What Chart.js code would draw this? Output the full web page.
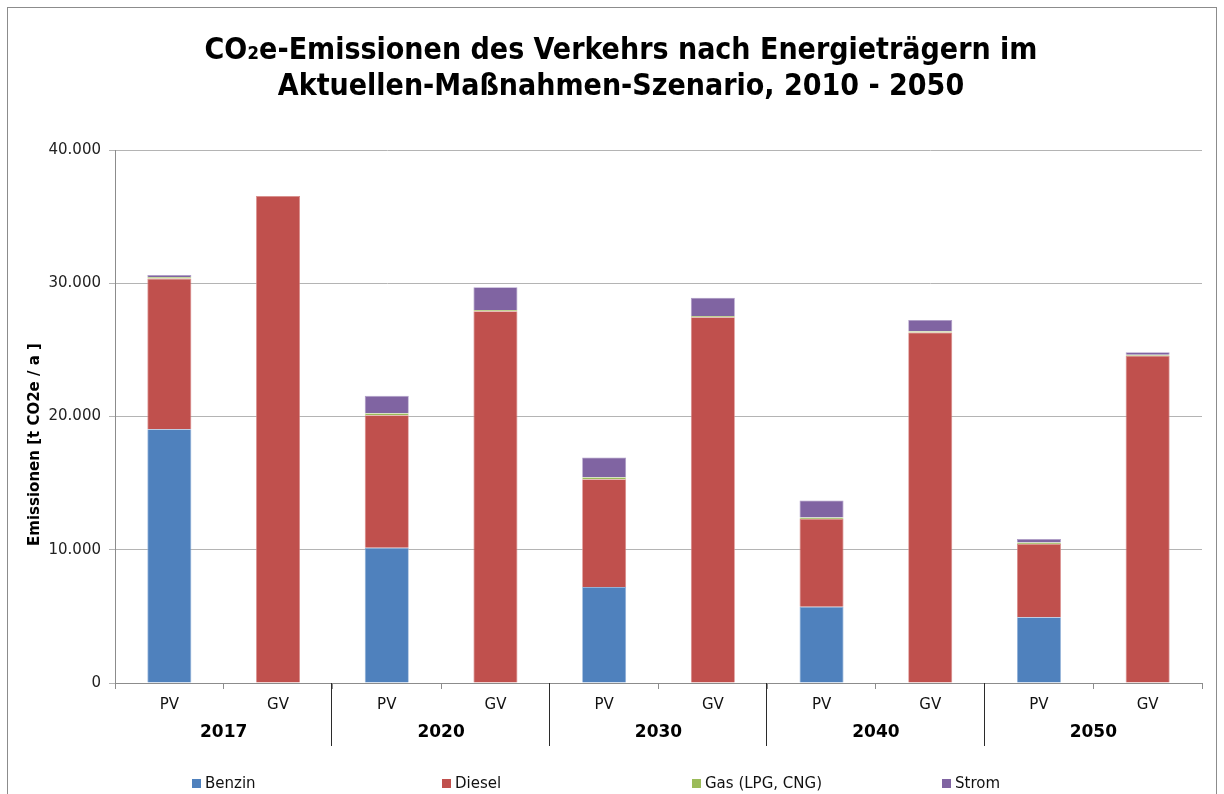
<!DOCTYPE html>
<html lang="de">
<head>
<meta charset="utf-8">
<title>CO₂e-Emissionen des Verkehrs nach Energieträgern</title>
<script src="https://cdn.jsdelivr.net/npm/chart.js@4.4.1/dist/chart.umd.min.js"></script>
<style>
  html, body { margin: 0; padding: 0; background: #fff; overflow: hidden; }
  #wrap { position: relative; width: 1224px; height: 794px; }
  #frame { position: absolute; left: 7px; top: 7px; width: 1210px; height: 820px; border: 1px solid #8c8c8c; box-sizing: border-box; pointer-events: none; }
  canvas { position: absolute; left: 0; top: 0; }
</style>
</head>
<body>
<div id="wrap">
  <canvas id="c" width="1224" height="794"></canvas>
  <div id="frame"></div>
</div>
<script>
// Fahrzeugarten je Stützjahr (PV = Personenverkehr, GV = Güterverkehr)
const vehicleTypes = ['PV', 'GV', 'PV', 'GV', 'PV', 'GV', 'PV', 'GV', 'PV', 'GV'];
const years = ['2017', '2020', '2030', '2040', '2050'];

// Emissionen je Energieträger in t CO2e / a
const benzin = [19050, 0, 10150, 0, 7200, 0, 5720, 0, 4930, 0];
const diesel = [11300, 36550, 9950, 27900, 8100, 27450, 6580, 26300, 5500, 24560];
const gas    = [120, 0, 150, 100, 150, 100, 120, 100, 120, 80];
const strom  = [150, 0, 1300, 1700, 1480, 1370, 1280, 850, 260, 180];

const yTicks = [0, 10000, 20000, 30000, 40000];

const seriesNames = ['Benzin', 'Diesel', 'Gas (LPG, CNG)', 'Strom'];
const seriesColors = ['#4F81BD', '#C0504D', '#9BBB59', '#8064A2'];
const seriesEdges = ['#8fb0d8', '#d98a88', '#c3d79c', '#ad9bc6'];

const FONT = '"DejaVu Sans", Verdana, sans-serif';
const nf = new Intl.NumberFormat('de-DE');
const yAxisTitle = 'Emissionen [t CO2e / a ]';

// Jahresgruppen unter der Achse: Trennlinien und fette Jahreszahlen
const yearGroups = {
  id: 'yearGroups',
  afterDraw(chart) {
    const ctx = chart.ctx;
    const x = chart.scales.x;
    const bottom = chart.chartArea.bottom;
    const per = vehicleTypes.length / years.length;
    ctx.save();
    ctx.strokeStyle = '#2b2b2b';
    ctx.lineWidth = 1;
    for (let g = 1; g < years.length; g++) {
      const px = Math.round((x.getPixelForValue(g * per - 1) + x.getPixelForValue(g * per)) / 2) - 0.5;
      ctx.beginPath();
      ctx.moveTo(px, bottom);
      ctx.lineTo(px, bottom + 63);
      ctx.stroke();
    }
    ctx.fillStyle = '#000';
    ctx.font = 'bold 17px ' + FONT;
    ctx.textAlign = 'center';
    ctx.textBaseline = 'middle';
    years.forEach((yr, g) => {
      const a = x.getPixelForValue(g * per);
      const b = x.getPixelForValue(g * per + per - 1);
      ctx.fillText(yr, (a + b) / 2, bottom + 50);
    });
    ctx.restore();
  }
};

// Achsentitel der Werteachse, senkrecht gedreht
const yTitle = {
  id: 'yTitle',
  afterDraw(chart) {
    const ctx = chart.ctx;
    const area = chart.chartArea;
    ctx.save();
    ctx.translate(35, (area.top + area.bottom) / 2 + 28);
    ctx.rotate(-Math.PI / 2);
    ctx.font = 'bold 15px ' + FONT;
    ctx.fillStyle = '#000';
    ctx.textAlign = 'center';
    ctx.textBaseline = 'middle';
    ctx.fillText(yAxisTitle, 0, 0);
    ctx.restore();
  }
};

// Legende am unteren Rand mit gleichmäßigem Abstand
const bottomLegend = {
  id: 'bottomLegend',
  afterDraw(chart) {
    const ctx = chart.ctx;
    const startX = chart.chartArea.left + 77;
    const step = 250;
    const y = 783;
    ctx.save();
    ctx.font = '15px ' + FONT;
    ctx.textBaseline = 'middle';
    ctx.textAlign = 'left';
    chart.data.datasets.forEach((ds, i) => {
      const bx = startX + i * step;
      ctx.fillStyle = ds.backgroundColor;
      ctx.fillRect(bx, y - 4, 9, 9);
      ctx.fillStyle = '#111';
      ctx.fillText(ds.label, bx + 13, y + 1);
    });
    ctx.restore();
  }
};

const datasets = [benzin, diesel, gas, strom].map((values, i) => ({
  label: seriesNames[i],
  data: values,
  backgroundColor: seriesColors[i],
  borderColor: seriesEdges[i],
  borderWidth: 0.8,
  stack: 'total',
  categoryPercentage: 1.0,
  barPercentage: 0.405
}));

new Chart(document.getElementById('c'), {
  type: 'bar',
  data: { labels: vehicleTypes, datasets },
  plugins: [yearGroups, yTitle, bottomLegend],
  options: {
    responsive: false,
    animation: false,
    devicePixelRatio: 1,
    layout: { padding: { top: 0, right: 22, bottom: 0, left: 40 } },
    plugins: {
      legend: { display: false },
      tooltip: { enabled: false },
      title: {
        display: true,
        text: ['CO₂e-Emissionen des Verkehrs nach Energieträgern im', 'Aktuellen-Maßnahmen-Szenario, 2010 - 2050'],
        color: '#000',
        font: { family: '"DejaVu Sans Condensed", "DejaVu Sans", Verdana, sans-serif', size: 30, weight: 'bold', lineHeight: 1.2 },
        padding: { top: 33, bottom: 45 }
      }
    },
    scales: {
      x: {
        stacked: true,
        afterFit(scale) { scale.height = 111; },
        grid: { display: true, drawOnChartArea: false, offset: true, tickLength: 6, color: '#8c8c8c' },
        border: { display: true, color: '#8c8c8c', width: 1 },
        ticks: { color: '#111', font: { family: FONT, size: 15 }, padding: 7, maxRotation: 0, autoSkip: false }
      },
      y: {
        stacked: true,
        min: 0,
        max: 40000,
        afterFit(scale) { scale.width = 75; },
        afterBuildTicks(scale) { scale.ticks = yTicks.map(v => ({ value: v })); },
        grid: { color: '#b4b4b4', tickLength: 6, lineWidth: 1 },
        border: { display: true, color: '#8c8c8c', width: 1 },
        ticks: { color: '#222', font: { family: FONT, size: 15 }, padding: 8, callback: v => nf.format(v) },
        title: { display: false }
      }
    }
  }
});
</script>
</body>
</html>
